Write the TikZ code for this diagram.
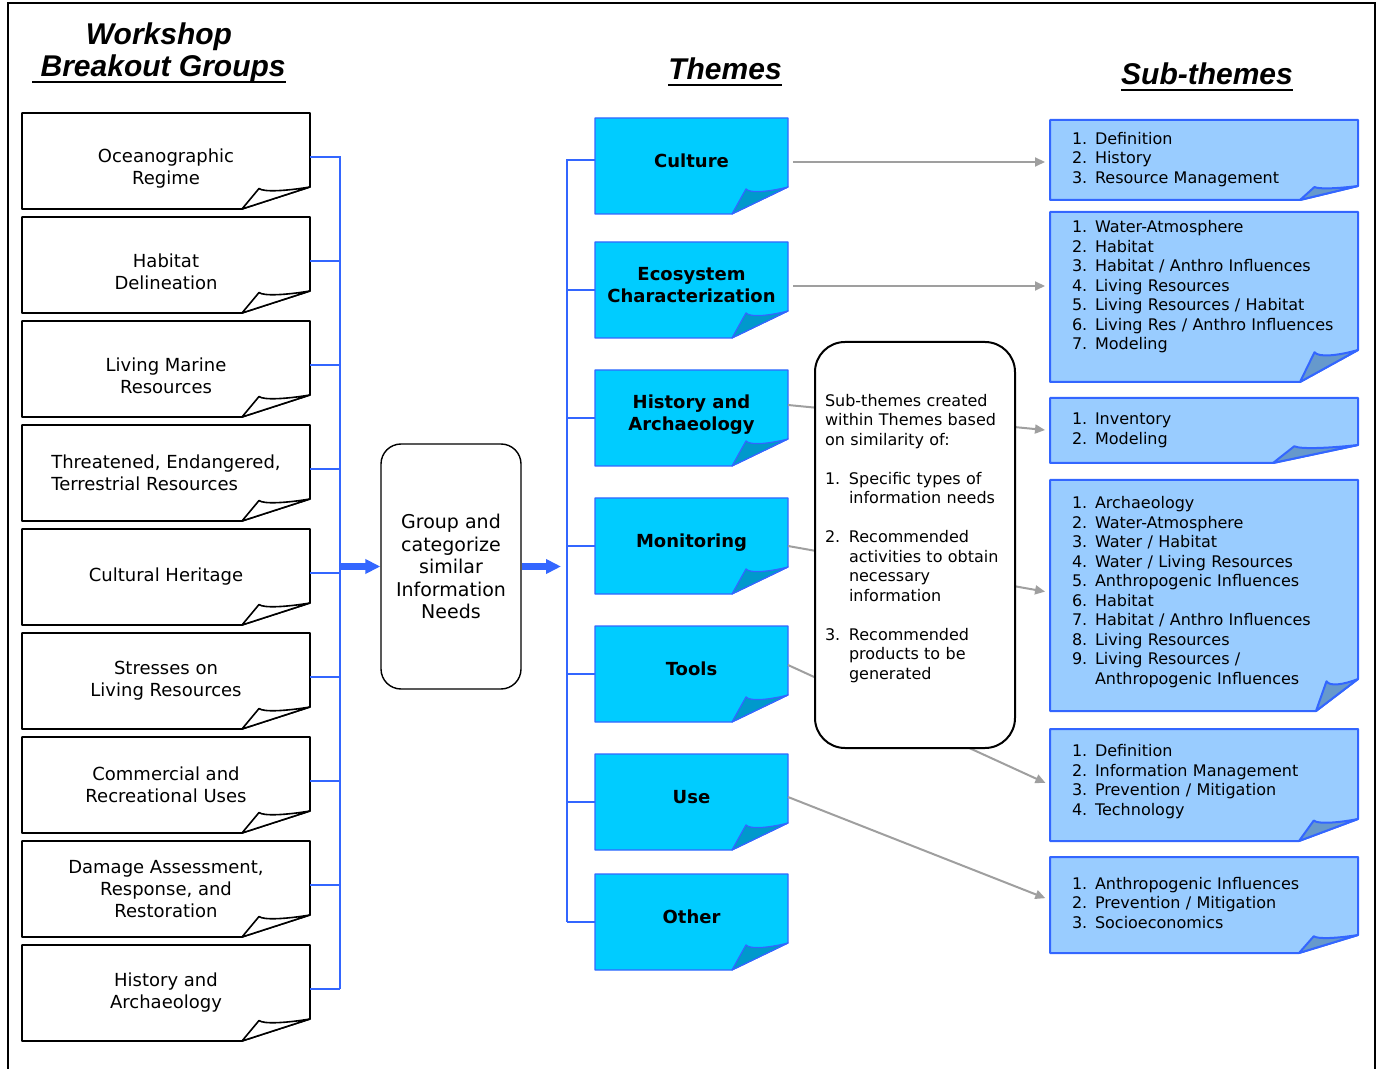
\documentclass[tikz,border=0pt]{standalone}
\usepackage{fontspec}
\setmainfont{DejaVu Sans}
\newfontfamily\titlefont{Liberation Sans}
\usepackage{xcolor}
\usetikzlibrary{positioning}
\usetikzlibrary{arrows.meta, backgrounds, calc}

\definecolor{themefill}{HTML}{00CCFF}
\definecolor{themeflap}{HTML}{0099CC}
\definecolor{noteline}{HTML}{3366FF}
\definecolor{subfill}{HTML}{99CCFF}
\definecolor{subflap}{HTML}{6699CC}
\definecolor{linkgrey}{HTML}{9F9F9F}

% heavy underline for the headings
\newcommand{\thickul}[1]{\setbox0\hbox{#1}\rlap{\rule[-3pt]{\wd0}{1.1pt}}\box0}
% pushes a label a little lower in its sheet
\newcommand{\droptext}{\rule{0pt}{14pt}}

% sheet with a turned-up corner behind a node
% #1 node, #2 fold width, #3 fold height, #4 sheet style, #5 flap style
\newcommand{\dogear}[5]{%
  \path[#4] (#1.north west) -- (#1.north east) -- ([yshift=#3]#1.south east)
    -- ([xshift=-#2]#1.south east) -- (#1.south west) -- cycle;
  \path[#5] ([xshift=-#2]#1.south east) -- ([xshift=-0.75*#2, yshift=0.93*#3]#1.south east)
    .. controls ([xshift=-0.68*#2, yshift=0.76*#3]#1.south east) and ([xshift=-0.35*#2, yshift=0.82*#3]#1.south east)
    .. ([yshift=#3]#1.south east) -- cycle;
}

\begin{document}
\begin{tikzpicture}[x=0.5pt, y=-0.5pt, node distance=4pt,
  title/.style = {font=\titlefont\bfseries\itshape\fontsize{15}{16}\selectfont, align=center, inner sep=0pt},
  group/.style = {minimum width=144pt, minimum height=48pt, inner sep=0pt, outer sep=0pt, align=center, font=\fontsize{9}{11}\selectfont},
  theme/.style = {minimum width=96.5pt, minimum height=48pt, inner sep=0pt, outer sep=0pt, align=center,
    font=\bfseries\fontsize{9}{11}\selectfont, execute at end node={\rule[-5.5pt]{0pt}{5.5pt}}},
  sub/.style = {text width=132pt, inner xsep=11pt, inner ysep=0pt, outer sep=0pt, align=left, font=\fontsize{8}{9.75}\selectfont},
  gsheet/.style = {draw=black, line width=0.8pt, line join=round, fill=white},
  tsheet/.style = {draw=noteline, line width=0.6pt, line join=round, fill=themefill},
  tflap/.style = {draw=noteline, line width=0.6pt, line join=round, fill=themeflap},
  ssheet/.style = {draw=noteline, line width=1pt, line join=round, fill=subfill},
  sflap/.style = {draw=noteline, line width=1pt, line join=round, fill=subflap},
  bracket/.style = {draw=noteline, line width=0.8pt},
  bigarrow/.style = {draw=noteline, line width=3pt, -{Triangle[length=7.5pt, width=7pt]}},
  link/.style = {draw=linkgrey, line width=1pt, -{Triangle[length=5pt, width=4.5pt]}, shorten >=2.5pt}]
\useasboundingbox (0,0) rectangle (1382,1069);
\draw[line width=1pt] (7.5,1069) -- (7.5,3) -- (1375,3) -- (1375,1069);

% headings
\node[title] (hgroups) at (159,53) {Workshop\\\thickul{\ Breakout Groups}};
\node[title] (hthemes) at (725,72) {\thickul{Themes}};
\node[title] (hsubs) at (1207,77) {\thickul{Sub-themes}};

% breakout groups
\node[group] (g1) at (166,161) {\droptext Oceanographic\\Regime};
\node[group] (g2) [below=of g1] {\droptext Habitat\\Delineation};
\node[group] (g3) [below=of g2] {\droptext Living Marine\\Resources};
\node[group, align=left] (g4) [below=of g3] {Threatened, Endangered,\\Terrestrial Resources};
\node[group] (g5) [below=of g4] {Cultural Heritage};
\node[group] (g6) [below=of g5] {Stresses on\\Living Resources};
\node[group] (g7) [below=of g6] {Commercial and\\Recreational Uses};
\node[group] (g8) [below=of g7] {Damage Assessment,\\Response, and\\Restoration};
\node[group] (g9) [below=of g8] {History and\\Archaeology};

\node[draw, line width=0.7pt, rounded corners=10pt, minimum width=70pt, minimum height=122.5pt,
  align=center, font=\fontsize{9.5}{11.25}\selectfont] (grp) at (451,566.5)
  {Group and\\categorize\\similar\\Information\\Needs};

% themes
\node[theme] (c1) at (691.5,166) {Culture};
\node[theme] (c2) [below=14pt of c1] {Ecosystem\\Characterization};
\node[theme] (c3) [below=16pt of c2] {History and\\Archaeology};
\node[theme] (c4) [below=16pt of c3] {Monitoring};
\node[theme] (c5) [below=16pt of c4] {Tools};
\node[theme] (c6) [below=16pt of c5] {Use};
\node[theme] (c7) [below=12pt of c6] {Other};

% sub-themes
\node[sub, minimum height=40pt] (s1) at (1204,160) {\begin{tabular}{@{}p{11.5pt}@{}l@{}}
1. & Definition\\ 2. & History\\ 3. & Resource Management\end{tabular}};
\node[sub, minimum height=85pt] (s2) [below=6pt of s1] {\begin{tabular}{@{}p{11.5pt}@{}l@{}}
1. & Water-Atmosphere\\ 2. & Habitat\\ 3. & Habitat / Anthro Influences\\ 4. & Living Resources\\
5. & Living Resources / Habitat\\ 6. & Living Res / Anthro Influences\\ 7. & Modeling\\[9.75pt]\end{tabular}};
\node[sub, minimum height=32.5pt] (s3) [below=8pt of s2] {\begin{tabular}{@{}p{11.5pt}@{}l@{}}
1. & Inventory\\ 2. & Modeling\end{tabular}};
\node[sub, minimum height=115.5pt] (s4) [below=8.5pt of s3] {\begin{tabular}{@{}p{11.5pt}@{}l@{}}
1. & Archaeology\\ 2. & Water-Atmosphere\\ 3. & Water / Habitat\\ 4. & Water / Living Resources\\
5. & Anthropogenic Influences\\ 6. & Habitat\\ 7. & Habitat / Anthro Influences\\ 8. & Living Resources\\
9. & Living Resources /\\ & Anthropogenic Influences\\[3pt]\end{tabular}};
\node[sub, minimum height=56pt] (s5) [below=9pt of s4] {\begin{tabular}{@{}p{11.5pt}@{}l@{}}
1. & Definition\\ 2. & Information Management\\ 3. & Prevention / Mitigation\\ 4. & Technology\\[3pt]\end{tabular}};
\node[sub, minimum height=48pt] (s6) [below=8pt of s5] {\begin{tabular}{@{}p{11.5pt}@{}l@{}}
1. & Anthropogenic Influences\\ 2. & Prevention / Mitigation\\ 3. & Socioeconomics\end{tabular}};

% sheets with turned corners
\begin{pgfonlayer}{background}
\foreach \i in {1,...,9} {\dogear{g\i}{34pt}{11pt}{gsheet}{gsheet}}
\foreach \i in {1,...,7} {\dogear{c\i}{28pt}{13.5pt}{tsheet}{tflap}}
\foreach \i/\w/\h in {1/29pt/7pt, 2/29pt/16pt, 3/42.5pt/9pt, 4/21pt/16pt, 5/29.5pt/11pt, 6/29.5pt/9pt}
  {\dogear{s\i}{\w}{\h}{ssheet}{sflap}}
\end{pgfonlayer}

% brackets
\coordinate (gbus) at ($(g9.east)+(30,-4)$);
\coordinate (tbus) at ($(c7.west)+(-28,0)$);
\foreach \i in {1,...,9} \draw[bracket] ([yshift=2pt]g\i.east) -| (gbus);
\draw[bracket] ([yshift=3pt]c1.west) -| (tbus);
\foreach \i in {2,...,7} \draw[bracket] (c\i.west) -| (tbus);
\draw[bigarrow] (gbus |- grp.west) -- (grp.west);
\draw[bigarrow, shorten >=3pt] (grp.east) -- (tbus |- grp.east);

% theme to sub-theme links
\draw[link, shorten <=2.5pt] ([yshift=2pt]c1.east) -- ([yshift=2pt]c1.east -| s1.west);
\draw[link, shorten <=2.5pt] ([yshift=2pt]c2.east) -- ([yshift=2pt]c2.east -| s2.west);
\draw[link] ([yshift=6.5pt]c3.east) -- (s3.west);
\draw[link] (c4.east) -- ([yshift=1.5pt]s4.west);
\draw[link] ([yshift=4.5pt]c5.east) -- (s5.west);
\draw[link] ([yshift=2.5pt]c6.east) -- ([yshift=2.5pt]s6.west);

\node[draw, line width=1pt, fill=white, rounded corners=15pt, minimum height=203pt, text width=90pt,
  inner xsep=5pt, align=left, font=\fontsize{8}{9.75}\selectfont] (basis) at (915,545)
  {\begin{tabular}{@{}p{12pt}@{}l@{}}
  \multicolumn{2}{@{}l@{}}{Sub-themes created}\\
  \multicolumn{2}{@{}l@{}}{within Themes based}\\
  \multicolumn{2}{@{}l@{}}{on similarity of:}\\[9.75pt]
  1. & Specific types of\\ & information needs\\[9.75pt]
  2. & Recommended\\ & activities to obtain\\ & necessary\\ & information\\[9.75pt]
  3. & Recommended\\ & products to be\\ & generated\\[6pt]
  \end{tabular}};
\end{tikzpicture}
\end{document}
